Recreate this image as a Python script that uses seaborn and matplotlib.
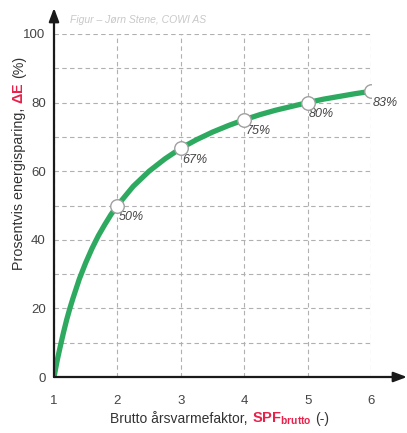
import matplotlib
matplotlib.use('Agg')
import matplotlib.pyplot as plt
from matplotlib.ticker import MultipleLocator
from matplotlib.transforms import IdentityTransform
import pandas as pd
import seaborn as sns

# data
spf = [1.0, 1.05, 1.1, 1.15, 1.2, 1.25, 1.3, 1.4, 1.5, 1.6, 1.7, 1.8, 1.9, 2.0,
       2.25, 2.5, 2.75, 3.0, 3.25, 3.5, 3.75, 4.0, 4.25, 4.5, 4.75, 5.0,
       5.25, 5.5, 5.75, 6.0]
besparing = [0, 4.8, 9, 13, 16.7, 20, 23, 28.6, 33.3, 37.5, 41.2, 44.4, 47.4, 50,
             55.6, 60, 63.6, 66.7, 69.2, 71.4, 73.3, 75, 76.5, 77.8, 78.9, 80,
             81, 81.8, 82.6, 83.3]
punkt_spf = [2, 3, 4, 5, 6]
punkt_verdi = [50, 66.7, 75, 80, 83.3]
punkt_tekst = ['50%', '67%', '75%', '80%', '83%']

sns.set_style('white')
plt.rcParams['font.family'] = ['Liberation Sans', 'DejaVu Sans']
plt.rcParams['mathtext.fontset'] = 'custom'
plt.rcParams['mathtext.rm'] = 'Liberation Sans'
plt.rcParams['mathtext.bf'] = 'Liberation Sans:bold'
plt.rcParams['mathtext.it'] = 'Liberation Sans:italic'

W, H = 407, 433
fig = plt.figure(figsize=(W / 100, H / 100), dpi=100)
ax = fig.add_axes([54 / W, 56 / H, 317 / W, 343 / H])

kurve = pd.DataFrame({'spf': spf, 'besparing': besparing})
punkter = pd.DataFrame({'spf': punkt_spf, 'besparing': punkt_verdi})

grønn = '#2eaa60'
sns.lineplot(data=kurve, x='spf', y='besparing', ax=ax, color=grønn,
             linewidth=3.8, solid_capstyle='butt', solid_joinstyle='round', zorder=3)
sns.scatterplot(data=punkter, x='spf', y='besparing', ax=ax, s=95,
                color='white', edgecolor='#a0a0a0', linewidth=1.0, zorder=4)

for x, y, t in zip(punkt_spf, punkt_verdi, punkt_tekst):
    ax.annotate(t, (x, y), xytext=(1, -4), textcoords='offset points',
                ha='left', va='top', fontsize=9, style='italic', color='#444444')

ax.set_xlim(1, 6)
ax.set_ylim(0, 100)
ax.xaxis.set_major_locator(MultipleLocator(1))
ax.yaxis.set_major_locator(MultipleLocator(20))
ax.yaxis.set_minor_locator(MultipleLocator(10))
ax.grid(True, which='both', linestyle=(0, (4, 3)), color='#b0b0b0', linewidth=0.8)
ax.tick_params(axis='both', which='both', length=0, labelsize=9.5, labelcolor='#444444')
ax.tick_params(axis='x', pad=13)
ax.tick_params(axis='y', pad=6)
ax.set_xlabel('')
ax.set_ylabel('')
for s in ax.spines.values():
    s.set_visible(False)

# axes with arrows
ax.annotate('', xy=((W - 54) / 317, 0), xytext=(0, 0), xycoords='axes fraction',
            arrowprops=dict(arrowstyle='-|>,head_length=0.8,head_width=0.3',
                            color='#1a1a1a', lw=1.6, shrinkA=0, shrinkB=0),
            annotation_clip=False)
ax.annotate('', xy=(0, (377 - 8) / 343), xytext=(0, 0), xycoords='axes fraction',
            arrowprops=dict(arrowstyle='-|>,head_length=0.8,head_width=0.3',
                            color='#1a1a1a', lw=1.6, shrinkA=0, shrinkB=0),
            annotation_clip=False)

fig.text(70 / W, (H - 20) / H, 'Figur – Jørn Stene, COWI AS', fontsize=7.5,
         style='italic', color='#c8c8c8', va='center', ha='left')


def fleerfarget(deler, cx, cy, rotasjon=0):
    r = fig.canvas.get_renderer()
    bredder = []
    for tekst, farge, kw, gap in deler:
        t = fig.text(0, 0, tekst, **kw)
        bredder.append(t.get_window_extent(renderer=r).width)
        t.remove()
    total = sum(bredder) + sum(d[3] for d in deler)
    pos = -total / 2
    for (tekst, farge, kw, gap), b in zip(deler, bredder):
        if rotasjon == 0:
            x, y = cx + pos, cy
        else:
            x, y = cx, cy + pos
        fig.text(x, y, tekst, color=farge, rotation=rotasjon, rotation_mode='anchor',
                 ha='left', va='baseline', transform=IdentityTransform(), **kw)
        pos += b + gap


rød = '#e8204a'
mørk = '#333333'
fleerfarget([
    ('Brutto årsvarmefaktor,', mørk, dict(fontsize=10), 4),
    (r'$\mathbf{SPF}_{\mathbf{brutto}}$', rød, dict(fontsize=10.5), 4),
    ('(-)', mørk, dict(fontsize=10), 0),
], 220, 10)

fleerfarget([
    ('Prosentvis energisparing,', mørk, dict(fontsize=10.3), 4),
    (r'$\mathbf{\Delta E}$', rød, dict(fontsize=10.3), 4),
    ('(%)', mørk, dict(fontsize=10.3), 0),
], 23, H - 163, rotasjon=90)

fig.savefig('out.png', dpi=100)
